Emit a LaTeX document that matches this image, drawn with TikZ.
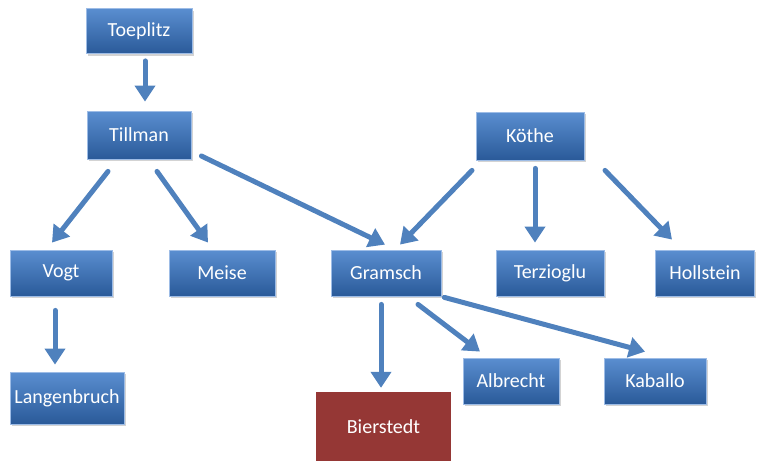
\documentclass[tikz,border=0pt]{standalone}
\usepackage{fontspec}
\setmainfont{Carlito}
\usetikzlibrary{arrows.meta,shadows}
\definecolor{linkblue}{HTML}{4F81BD}
\definecolor{boxtop}{HTML}{5A8ED0}
\definecolor{boxbottom}{HTML}{2A5A99}
\definecolor{boxedge}{HTML}{9DBCE6}
\definecolor{bierred}{HTML}{953735}
\tikzset{
  person/.style={rectangle, shading=axis, top color=boxtop, bottom color=boxbottom,
    draw=boxedge, line width=0.8pt, text=white, font=\fontsize{20}{24}\selectfont,
    inner sep=0pt, drop shadow={shadow xshift=1.5pt, shadow yshift=-2pt, opacity=0.35}},
  leaf/.style={rectangle, fill=bierred, text=white, font=\fontsize{20}{24}\selectfont, inner sep=0pt},
  link/.style={draw=linkblue, line width=5pt, line cap=round,
    -{Triangle[width=20pt,length=16pt]}}
}
\begin{document}
\begin{tikzpicture}[x=1pt,y=-1pt]
    \useasboundingbox (0,0) rectangle (757,461);
    % boxes
    \node[person, minimum width=106pt, minimum height=45pt] (toeplitz) at (139,31) {Toeplitz};
    \node[person, minimum width=104pt, minimum height=48pt] (tillman) at (139,135) {Tillman};
    \node[person, minimum width=108pt, minimum height=48pt] (kothe) at (530,136) {Köthe};
    \node[person, minimum width=102pt, minimum height=46pt] (vogt) at (61,273) {Vogt};
    \node[person, minimum width=106pt, minimum height=46pt] (meise) at (222,273) {Meise};
    \node[person, minimum width=110pt, minimum height=46pt] (gramsch) at (386,273) {Gramsch};
    \node[person, minimum width=108pt, minimum height=46pt] (terzioglu) at (550,273) {Terzioglu};
    \node[person, minimum width=99pt, minimum height=46pt] (hollstein) at (705,273) {Hollstein};
    \node[person, minimum width=114pt, minimum height=52pt] (langenbruch) at (67,398) {Langenbruch};
    \node[person, minimum width=96pt, minimum height=46pt] (albrecht) at (511,381) {Albrecht};
    \node[person, minimum width=102pt, minimum height=46pt] (kaballo) at (655,381) {Kaballo};
    \node[leaf, minimum width=135pt, minimum height=69pt] (bierstedt) at (383.5,426.5) {Bierstedt};
    % arrows
    \draw[link] ([shift={(6,7)}]toeplitz.south) -- ([shift={(6,-9)}]tillman.north);
    \draw[link] ([shift={(-31,12)}]tillman.south) -- ([shift={(-9,-7)}]vogt.north);
    \draw[link] ([shift={(18,12)}]tillman.south) -- ([shift={(-14,-7)}]meise.north);
    \draw[link] ([shift={(10,21)}]tillman.east) -- ([shift={(-1,-5)}]gramsch.north);
    \draw[link] ([shift={(-58,10)}]kothe.south) -- ([shift={(14,-5)}]gramsch.north);
    \draw[link] ([shift={(5,8)}]kothe.south) -- ([shift={(-15,-7)}]terzioglu.north);
    \draw[link] ([shift={(75,10)}]kothe.south) -- ([shift={(-33,-10)}]hollstein.north);
    \draw[link] ([shift={(-6,14)}]vogt.south) -- ([shift={(-12,-7)}]langenbruch.north);
    \draw[link] ([shift={(-5,8)}]gramsch.south) -- ([shift={(-2.5,-4)}]bierstedt.north);
    \draw[link] ([shift={(32,8)}]gramsch.south) -- ([shift={(-31,-6)}]albrecht.north);
    \draw[link] ([shift={(3,1)}]gramsch.south east) -- ([shift={(-10,-6)}]kaballo.north);
\end{tikzpicture}
\end{document}
